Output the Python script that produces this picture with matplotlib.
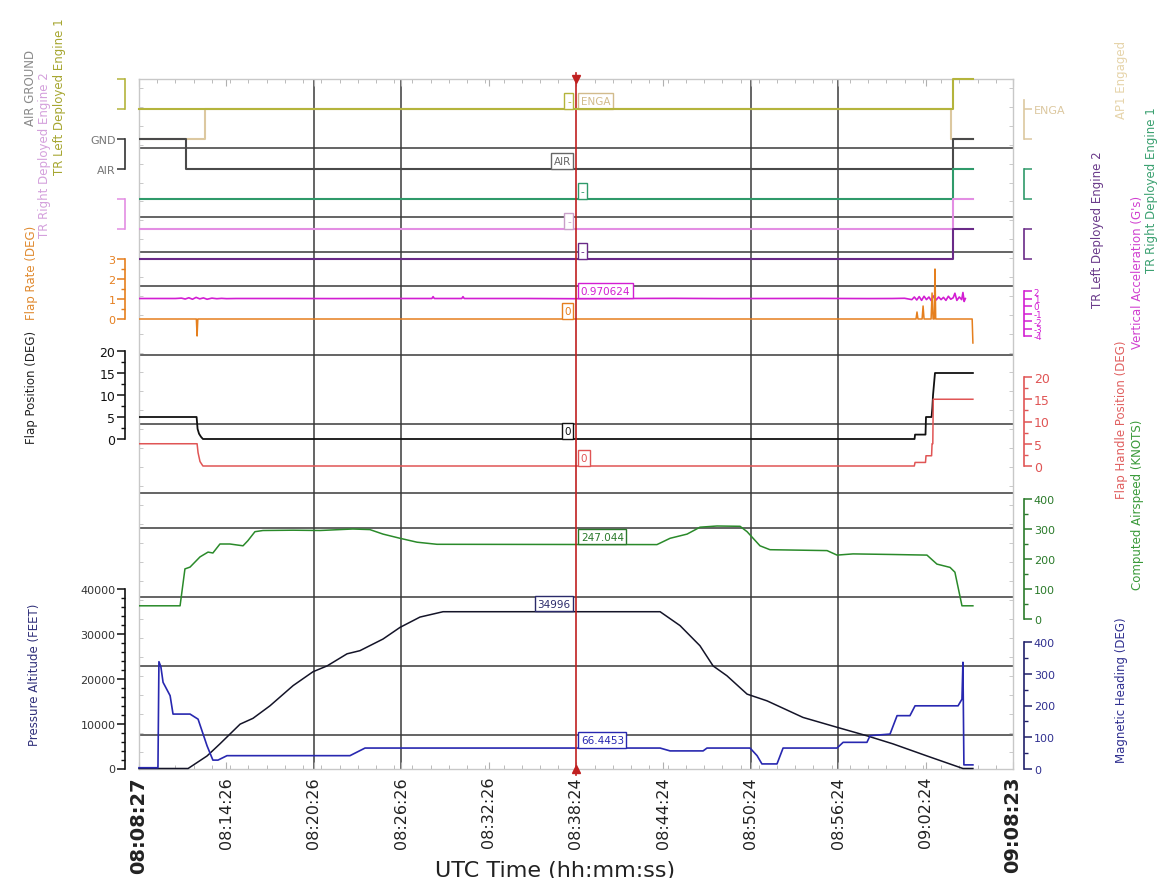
import matplotlib
matplotlib.use("Agg")
import numpy as np
import matplotlib.pyplot as plt
import matplotlib.transforms as mtransforms
from matplotlib.ticker import FixedLocator

plt.rcParams['font.family'] = ['DejaVu Sans']

# ---------------- data ----------------
start_time = "08:08:27"
end_time = "09:08:23"
time_tick_labels = ["08:08:27", "08:14:26", "08:20:26", "08:26:26", "08:32:26", "08:38:24",
                    "08:44:24", "08:50:24", "08:56:24", "09:02:24", "09:08:23"]
grid_times = ["08:20:26", "08:26:26", "08:50:24", "08:56:24"]
cursor_time = "08:38:24"

# all times below are seconds after 08:08:27
t_tr_left1 = [0, 3349, 3431]
tr_left1 = [0, 1, 1]
t_ap1 = [0, 272, 3340, 3431]
ap1 = [0, 1, 0, 0]
t_airgnd = [0, 193, 3349, 3431]
airgnd = [1, 0, 1, 1]          # 1 = GND, 0 = AIR
t_tr_right1 = [0, 3349, 3431]
tr_right1 = [0, 1, 1]
t_tr_right2 = [0, 3349, 3431]
tr_right2 = [0, 1, 1]
t_tr_left2 = [0, 3349, 3431]
tr_left2 = [0, 1, 1]

t_vacc = [0, 150, 175, 190, 205, 220, 235, 250, 265, 280,
          300, 320, 340, 360, 400, 600, 800, 1000, 1205, 1210,
          1215, 1328, 1333, 1338, 1600, 1797, 2000, 2200, 2400, 2600,
          2800, 3000, 3100, 3150, 3180, 3190, 3200, 3210, 3220, 3230,
          3240, 3250, 3260, 3270, 3280, 3290, 3300, 3310, 3320, 3330,
          3340, 3350, 3357, 3365, 3375, 3385, 3390, 3395, 3400]
vacc = [1.0, 1.0, 1.05, 0.93, 1.1, 0.9, 1.15, 0.95, 1.08, 0.9,
        1.05, 0.97, 1.02, 0.98, 1.0, 1.0, 0.99, 1.0, 1.0, 1.25,
        1.0, 1.0, 1.25, 1.0, 1.0, 0.97, 1.0, 1.02, 0.99, 1.0,
        1.01, 0.99, 1.0, 1.03, 0.85, 1.2, 0.8, 1.25, 0.75, 1.3,
        0.85, 1.2, 0.7, 1.35, 0.8, 1.2, 0.85, 1.15, 0.75, 1.3,
        0.9, 1.1, 1.7, 0.75, 1.2, 0.85, 1.8, 0.6, 1.0]

t_frate = [0, 236, 239, 242, 3197, 3201, 3205, 3222, 3226, 3230, 3259, 3263, 3267, 3272, 3275, 3278, 3428, 3431]
frate = [0, 0, -0.85, 0, 0, 0.35, 0, 0, 0.65, 0, 0, 1.3, 0, 0, 2.5, 0, 0, -1.2]

t_flap = [0, 237, 241, 247, 255, 263, 3191, 3193, 3236, 3238, 3261, 3264, 3267, 3275, 3431]
flap = [5, 5, 2.3, 1.2, 0.5, 0, 0, 1, 1, 5, 5, 7, 10, 15, 15]

t_fhp = [0, 239, 243, 251, 263, 3190, 3193, 3236, 3238, 3261, 3263, 3266, 3268, 3431]
fhp = [5, 5, 3, 1, 0, 0, 0.8, 0.8, 2.3, 2.3, 5, 5, 15, 15]

t_cas = [0, 169, 189, 210, 251, 284, 304, 333, 374, 428,
         448, 477, 510, 634, 745, 880, 950, 1004, 1074, 1144,
         1226, 2131, 2144, 2185, 2255, 2308, 2378, 2473, 2502, 2555,
         2596, 2831, 2872, 2938, 3102, 3242, 3283, 3337, 3357, 3386, 3431]
cas = [44, 44, 167, 173, 207, 223, 220, 250, 250, 244,
       261, 291, 295, 296, 295, 300, 298, 283, 269, 256,
       249, 248, 253, 269, 283, 306, 310, 309, 291, 244,
       231, 228, 213, 217, 215, 213, 183, 172, 156, 44, 44]

t_alt = [0, 202, 280, 333, 416, 469, 539, 634, 716, 774,
         856, 909, 1004, 1074, 1156, 1251, 2144, 2226, 2308, 2362,
         2419, 2502, 2584, 2732, 2872, 2995, 3102, 3242, 3345, 3390, 3431]
alt = [0, 0, 2800, 5500, 9900, 11200, 14000, 18500, 21600, 22900,
       25600, 26300, 28900, 31500, 33800, 34996, 34996, 31900, 27400, 22900,
       20700, 16600, 15100, 11400, 9200, 7300, 5500, 2800, 850, 0, 0]

t_hdg = [0, 78, 82, 90, 99, 128, 140, 210, 243, 280,
         304, 325, 362, 868, 930, 2144, 2185, 2321, 2337, 2514,
         2543, 2563, 2625, 2650, 2872, 2897, 2995, 3008, 3090, 3119,
         3172, 3193, 3370, 3386, 3390, 3394, 3431]
hdg = [4, 4, 338, 322, 273, 231, 173, 173, 157, 73,
       28, 28, 42, 42, 66, 66, 57, 57, 66, 66,
       42, 16, 16, 66, 66, 84, 84, 105, 110, 168,
       168, 199, 199, 220, 336, 13, 13]

# readout boxes at the cursor (track order below)
readout_text = ["-", "ENGA", "AIR", "-", "-", "-", "0.970624", "0", "0", "0", "247.044", "34996", "66.4453"]
readout_value = [0, 1, 0, 0, 0, 0, 0.970624, 0, 0, 0, 247.044, 34996, 66.4453]


def sec(s):
    h, m, x = map(int, s.split(":"))
    h0, m0, x0 = map(int, start_time.split(":"))
    return (h * 3600 + m * 60 + x) - (h0 * 3600 + m0 * 60 + x0)


# ---------------- layout ----------------
W, H = 1161, 879
fig = plt.figure(figsize=(W / 100, H / 100), dpi=100)
fig.patch.set_facecolor("white")
L, R, T, B = 139, 1013, 80, 770
rect = [L / W, 1 - B / H, (R - L) / W, (B - T) / H]

base = fig.add_axes(rect, label="base")
base.set_xlim(0, sec(end_time))
base.set_ylim(0, 20)
for s in base.spines.values():
    s.set_color("#c8c8c8")
    s.set_linewidth(1.0)
for g in [1, 3, 5, 7, 8, 10, 12, 14, 15, 16, 18]:
    base.axhline(g, color="#3a3a3a", lw=1.1, zorder=1)
for gt in grid_times:
    base.axvline(sec(gt), color="#3a3a3a", lw=1.1, zorder=1)
tick_pos = [sec(s) for s in time_tick_labels]
base.set_xticks(tick_pos)
base.set_xticklabels(time_tick_labels, rotation=90, fontsize=11.5, color="#222222")
labs = base.get_xticklabels()
for lb in (labs[0], labs[-1]):
    lb.set_fontsize(14)
    lb.set_fontweight("bold")
base.xaxis.set_minor_locator(FixedLocator(np.arange(0, sec(end_time), 75)))
base.tick_params(axis="x", which="both", direction="in", top=True, color="#b0b0b0")
base.tick_params(axis="x", which="major", length=5, pad=5)
base.tick_params(axis="x", which="minor", length=3)
base.set_yticks([])
base.yaxis.set_minor_locator(FixedLocator(np.arange(0.5, 20, 0.55)))
base.tick_params(axis="y", which="minor", direction="in", left=True, right=True, length=3, color="#c0c0c0")


def add_track(name, y0, ppu, side, bounds, ticks, ticklabels, color, labelcolor=None, minor=None, labelsize=8):
    ax = fig.add_axes(rect, sharex=base, label=name)
    ax.set_facecolor("none")
    ax.set_ylim((y0 - B) / ppu, (y0 - T) / ppu)
    ax.xaxis.set_visible(False)
    for s in ax.spines.values():
        s.set_visible(False)
    sp = ax.spines[side]
    sp.set_visible(True)
    sp.set_position(("outward", 10 if side == "left" else 8))
    sp.set_bounds(*bounds)
    sp.set_color(color)
    sp.set_linewidth(1.2)
    ax.yaxis.set_ticks_position(side)
    ax.set_yticks(ticks)
    ax.set_yticklabels(ticklabels)
    ax.tick_params(axis="y", which="major", direction="out", length=6, width=1.1, color=color,
                   labelcolor=labelcolor or color, labelsize=labelsize, pad=1)
    if minor:
        ax.yaxis.set_minor_locator(FixedLocator(np.arange(bounds[0], bounds[1] + 1e-9, minor)))
        ax.tick_params(axis="y", which="minor", direction="out", length=3, width=1, color=color)
    return ax


c_olive, c_beige, c_gnd = "#b4b43c", "#dcc8a0", "#4a4a4a"
c_tr1, c_tr2, c_trl2 = "#2f9a6a", "#e38ee3", "#6a2a88"
c_vacc, c_frate, c_flap, c_fhp = "#d21ed2", "#e57f1e", "#111111", "#e05555"
c_cas, c_alt, c_hdg = "#2a8a2a", "#141428", "#2828b0"

tracks = []
a_olive = add_track("trl1", 110, 30, "left", (0, 1), [0, 1], ["", ""], c_olive)
tracks.append((a_olive, c_olive, "left"))
a = add_track("ap1", 140, 30, "right", (0, 1.3), [0, 1], ["", "ENGA"], c_beige, labelsize=8)
a.plot(t_ap1, ap1, color=c_beige, lw=1.5, drawstyle="steps-post")
tracks.append((a, "#d2bb8c", "right"))
# olive drawn above the beige autopilot trace (they share a level)
a_olive.set_zorder(a.get_zorder() + 0.5)
a_olive.plot(t_tr_left1, tr_left1, color=c_olive, lw=1.5, drawstyle="steps-post", clip_on=False)
a = add_track("airgnd", 170, 30, "left", (0, 1), [0, 1], ["AIR", "GND"], "#333333", labelcolor="#777777")
a.plot(t_airgnd, airgnd, color=c_gnd, lw=1.5, drawstyle="steps-post")
tracks.append((a, "#666666", "left"))
a = add_track("trr1", 200, 30, "right", (0, 1), [0, 1], ["", ""], c_tr1)
a.plot(t_tr_right1, tr_right1, color=c_tr1, lw=1.5, drawstyle="steps-post")
tracks.append((a, c_tr1, "right"))
a = add_track("trr2", 230, 30, "left", (0, 1), [0, 1], ["", ""], c_tr2)
a.plot(t_tr_right2, tr_right2, color=c_tr2, lw=1.5, drawstyle="steps-post")
tracks.append((a, "#c9a0c9", "left"))
a = add_track("trl2", 260, 30, "right", (0, 1), [0, 1], ["", ""], c_trl2)
a.plot(t_tr_left2, tr_left2, color=c_trl2, lw=1.5, drawstyle="steps-post")
tracks.append((a, c_trl2, "right"))
a = add_track("vacc", 307, 7.5, "right", (-4, 2), list(range(-4, 3)), [str(v) for v in range(-4, 3)],
              c_vacc, labelsize=6.3)
a.plot(t_vacc, vacc, color=c_vacc, lw=1.2)
tracks.append((a, c_vacc, "right"))
a = add_track("frate", 320, 20, "left", (0, 3), [0, 1, 2, 3], ["0", "1", "2", "3"], c_frate, minor=0.5)
a.plot(t_frate, frate, color=c_frate, lw=1.1)
tracks.append((a, c_frate, "left"))
a = add_track("flap", 440, 4.4, "left", (0, 20), [0, 5, 10, 15, 20], ["0", "5", "10", "15", "20"],
              "#111111", minor=2.5, labelsize=9)
a.plot(t_flap, flap, color=c_flap, lw=1.3)
tracks.append((a, c_flap, "left"))
a = add_track("fhp", 467, 4.45, "right", (0, 20), [0, 5, 10, 15, 20], ["0", "5", "10", "15", "20"],
              c_fhp, minor=2.5, labelsize=9)
a.plot(t_fhp, fhp, color=c_fhp, lw=1.1)
tracks.append((a, c_fhp, "right"))
a = add_track("cas", 620, 0.3, "right", (0, 400), [0, 100, 200, 300, 400], ["0", "100", "200", "300", "400"],
              "#2a7a2a", minor=50, labelsize=8)
a.plot(t_cas, cas, color=c_cas, lw=1.1)
tracks.append((a, "#2a7a2a", "right"))
a = add_track("alt", 769.5, 0.00448, "left", (0, 40000), [0, 10000, 20000, 30000, 40000],
              ["0", "10000", "20000", "30000", "40000"], "#111111", labelcolor="#333333", minor=2000, labelsize=8)
a.plot(t_alt, alt, color=c_alt, lw=1.1, clip_on=False)
tracks.append((a, "#2a2a6a", "left"))
a = add_track("hdg", 770, 0.3175, "right", (0, 400), [0, 100, 200, 300, 400], ["0", "100", "200", "300", "400"],
              "#20206a", labelcolor="#303090", minor=50, labelsize=8)
a.plot(t_hdg, hdg, color=c_hdg, lw=1.2, clip_on=False)
tracks.append((a, c_hdg, "right"))

# cursor and readouts
ct = sec(cursor_time)
top_ax = tracks[-1][0]
top_ax.axvline(ct, ymin=-0.008, ymax=1.008, color="#c02020", lw=1.2, clip_on=False, zorder=5)
trans = mtransforms.blended_transform_factory(top_ax.transData, top_ax.transAxes)
top_ax.plot([ct], [1.0], marker="v", color="#c02020", ms=6, transform=trans, clip_on=False, zorder=6)
top_ax.plot([ct], [0.0], marker="^", color="#c02020", ms=6, transform=trans, clip_on=False, zorder=6)

for (ax, col, side), txt, val in zip(tracks, readout_text, readout_value):
    dx = -5 if side == "left" else 5
    ax.annotate(txt, xy=(ct, val), xytext=(dx, 3), textcoords="offset pixels",
                ha="right" if dx < 0 else "left", va="bottom", fontsize=7.5, color=col,
                bbox=dict(boxstyle="square,pad=0.25", fc="white", ec=col, lw=1.0), zorder=7)


# axis titles (rotated)
def vlabel(x, y, text, color, size=8.5):
    fig.text(x / W, 1 - y / H, text, rotation=90, ha="center", va="center", color=color, fontsize=size)


vlabel(31, 88, "AIR GROUND", "#8a8a8a")
vlabel(45, 155, "TR Right Deployed Engine 2", "#d4a0dc")
vlabel(60, 97, "TR Left Deployed Engine 1", "#a6a630")
vlabel(31, 273, "Flap Rate (DEG)", "#e08a30")
vlabel(31, 387, "Flap Position (DEG)", "#222222")
vlabel(35, 675, "Pressure Altitude (FEET)", "#30307a")
vlabel(1122, 80, "AP1 Engaged", "#e6d4aa")
vlabel(1097, 230, "TR Left Deployed Engine 2", "#6a3a8a")
vlabel(1137, 272, "Vertical Acceleration (G's)", "#d040d0")
vlabel(1152, 190, "TR Right Deployed Engine 1", "#3aa070")
vlabel(1122, 420, "Flap Handle Position (DEG)", "#e06060")
vlabel(1137, 505, "Computed Airspeed (KNOTS)", "#3a9a3a")
vlabel(1122, 690, "Magnetic Heading (DEG)", "#303090")

fig.text(555 / W, 1 - 877 / H, "UTC Time (hh:mm:ss)", ha="center", va="baseline", fontsize=16, color="#222222")

fig.savefig("out.png", dpi=100)
